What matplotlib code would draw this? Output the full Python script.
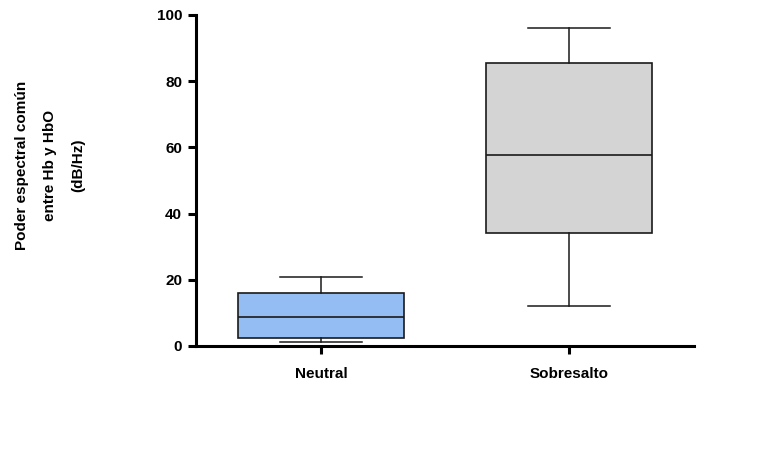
import matplotlib
matplotlib.use("Agg")
import matplotlib.pyplot as plt

categories = ["Neutral", "Sobresalto"]
whisker_low = [1.3, 12.1]
q1 = [2.5, 34.0]
median = [8.7, 57.7]
q3 = [16.1, 85.6]
whisker_high = [20.9, 96.2]
box_colors = ["#93bdf3", "#d4d4d4"]
yticks = [0, 20, 40, 60, 80, 100]
ylabel = "Poder espectral común\nentre Hb y HbO\n(dB/Hz)"

plt.rcParams["font.family"] = ["Liberation Sans", "DejaVu Sans"]
plt.rcParams["font.weight"] = "bold"

fig = plt.figure(figsize=(7.61, 4.68), dpi=100)
ax = fig.add_axes([0.2576, 0.2607, 0.912 - 0.2576, 0.968 - 0.2607])

stats = []
for i, c in enumerate(categories):
    stats.append(dict(label=c, whislo=whisker_low[i], q1=q1[i], med=median[i],
                      q3=q3[i], whishi=whisker_high[i], fliers=[]))

positions = list(range(1, len(categories) + 1))
bp = ax.bxp(stats, positions=positions, widths=0.667, patch_artist=True,
            showfliers=False,
            boxprops=dict(linewidth=1.2, edgecolor="#1a1a1a"),
            medianprops=dict(color="#1a1a1a", linewidth=1.2),
            whiskerprops=dict(color="#1a1a1a", linewidth=1.1),
            capprops=dict(color="#1a1a1a", linewidth=1.1),
            capwidths=0.333)
for patch, col in zip(bp["boxes"], box_colors):
    patch.set_facecolor(col)

ax.set_xlim(0.496, 2.504)
ax.set_ylim(0, 100)
ax.set_yticks(yticks)
ax.set_xticks(positions)
ax.set_xticklabels(categories)

for s in ["top", "right"]:
    ax.spines[s].set_visible(False)
for s in ["left", "bottom"]:
    ax.spines[s].set_linewidth(2.2)
    ax.spines[s].set_color("black")
ax.spines["left"].set_bounds(0, 100)
ax.tick_params(axis="both", length=6, width=2.2, labelsize=11, colors="black")
ax.tick_params(axis="x", pad=9)
ax.tick_params(axis="y", pad=4)
for lab in ax.get_xticklabels() + ax.get_yticklabels():
    lab.set_fontweight("bold")

fig.text(0.0657, 0.647, ylabel, rotation=90, ha="center", va="center",
         fontsize=11, fontweight="bold", linespacing=2.3, multialignment="center")

fig.savefig("out.png", dpi=100)
